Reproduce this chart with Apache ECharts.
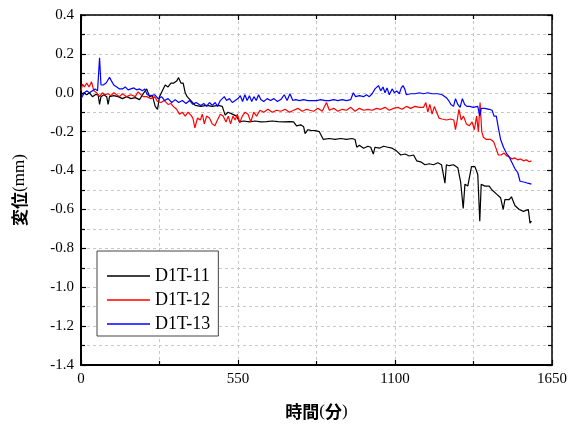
<!DOCTYPE html>
<html><head><meta charset="utf-8">
<script src="https://cdn.jsdelivr.net/npm/echarts@6/dist/echarts.min.js"></script>
<style>html,body{margin:0;padding:0;background:#fff}#c{width:572px;height:436px}</style>
</head><body><div id="c"></div>
<script>
const seriesNames = ['D1T-11', 'D1T-12', 'D1T-13'];
const seriesColors = ['#000000', '#ff0000', '#0000ff'];
const xLabelRich = '{k|時間}{p|(}{k|分}{p|)}';
const yLabelRich = '{k|変位}{p|(mm)}';

const d1t11 = [[0,-0.01],[10,0.0],[20,-0.01],[30,0.0],[40,-0.02],[50,-0.01],[60,-0.01],[65,-0.06],[70,-0.02],[80,-0.01],[90,-0.02],[95,-0.06],[100,-0.02],[115,-0.015],[130,-0.02],[145,-0.03],[160,-0.02],[175,-0.03],[190,-0.025],[205,-0.035],[220,0.0],[230,0.02],[240,-0.02],[250,-0.015],[260,-0.07],[268,-0.085],[275,-0.02],[285,0.01],[295,0.04],[305,0.03],[315,0.05],[325,0.05],[335,0.06],[342,0.078],[350,0.05],[358,0.05],[365,0.0],[372,-0.02],[385,-0.04],[400,-0.065],[420,-0.07],[440,-0.065],[460,-0.07],[480,-0.065],[495,-0.07],[505,-0.115],[515,-0.1],[530,-0.11],[545,-0.12],[555,-0.15],[570,-0.145],[590,-0.15],[610,-0.145],[630,-0.15],[650,-0.148],[670,-0.145],[690,-0.148],[710,-0.15],[730,-0.148],[745,-0.15],[755,-0.17],[770,-0.165],[780,-0.175],[785,-0.21],[795,-0.19],[805,-0.193],[820,-0.195],[835,-0.2],[849,-0.24],[870,-0.235],[890,-0.24],[910,-0.235],[930,-0.24],[950,-0.235],[960,-0.24],[966,-0.28],[975,-0.27],[990,-0.285],[1005,-0.275],[1015,-0.28],[1024,-0.315],[1030,-0.28],[1045,-0.285],[1060,-0.275],[1075,-0.28],[1090,-0.285],[1106,-0.3],[1120,-0.32],[1135,-0.315],[1150,-0.325],[1165,-0.32],[1176,-0.35],[1190,-0.355],[1205,-0.37],[1220,-0.365],[1235,-0.37],[1250,-0.36],[1263,-0.37],[1270,-0.38],[1275,-0.465],[1280,-0.37],[1290,-0.375],[1305,-0.37],[1320,-0.385],[1330,-0.46],[1339,-0.595],[1345,-0.47],[1355,-0.48],[1368,-0.38],[1380,-0.38],[1390,-0.42],[1397,-0.66],[1402,-0.47],[1415,-0.48],[1430,-0.48],[1440,-0.5],[1455,-0.52],[1470,-0.54],[1479,-0.6],[1485,-0.55],[1500,-0.55],[1508,-0.535],[1520,-0.58],[1535,-0.6],[1550,-0.61],[1567,-0.6],[1573,-0.67],[1578,-0.66]];

const d1t12 = [[0,0.01],[5,0.045],[12,0.03],[20,0.05],[28,0.03],[37,0.056],[45,0.01],[55,0.0],[65,-0.02],[75,0.0],[85,-0.01],[95,-0.005],[105,-0.015],[115,0.0],[125,-0.01],[135,-0.02],[145,-0.005],[160,-0.02],[175,-0.01],[190,-0.02],[200,0.005],[210,-0.01],[218,-0.02],[230,-0.02],[245,-0.03],[258,-0.02],[268,-0.045],[280,-0.05],[292,-0.04],[305,-0.06],[315,-0.055],[323,-0.07],[335,-0.085],[345,-0.11],[355,-0.1],[365,-0.12],[375,-0.1],[385,-0.115],[392,-0.13],[399,-0.18],[408,-0.13],[418,-0.14],[425,-0.11],[432,-0.16],[440,-0.12],[450,-0.13],[460,-0.16],[469,-0.17],[478,-0.14],[488,-0.11],[498,-0.12],[508,-0.15],[516,-0.12],[524,-0.16],[532,-0.12],[540,-0.14],[548,-0.11],[556,-0.155],[565,-0.12],[575,-0.1],[585,-0.11],[595,-0.15],[605,-0.1],[615,-0.12],[627,-0.09],[640,-0.1],[655,-0.085],[670,-0.1],[685,-0.09],[700,-0.095],[715,-0.085],[730,-0.1],[745,-0.09],[760,-0.08],[775,-0.095],[790,-0.085],[802,-0.09],[815,-0.095],[830,-0.08],[845,-0.095],[860,-0.05],[870,-0.09],[885,-0.08],[900,-0.095],[915,-0.085],[930,-0.09],[945,-0.075],[960,-0.095],[975,-0.08],[990,-0.09],[1005,-0.085],[1020,-0.09],[1035,-0.08],[1050,-0.085],[1065,-0.075],[1080,-0.09],[1095,-0.08],[1110,-0.075],[1125,-0.085],[1140,-0.07],[1155,-0.08],[1170,-0.07],[1185,-0.075],[1200,-0.075],[1208,-0.05],[1215,-0.1],[1222,-0.06],[1230,-0.11],[1238,-0.07],[1246,-0.1],[1254,-0.13],[1265,-0.135],[1280,-0.14],[1295,-0.135],[1306,-0.14],[1312,-0.19],[1318,-0.14],[1324,-0.085],[1332,-0.14],[1340,-0.12],[1350,-0.16],[1360,-0.17],[1370,-0.15],[1378,-0.19],[1386,-0.12],[1392,-0.2],[1398,-0.05],[1404,-0.2],[1410,-0.23],[1420,-0.24],[1435,-0.24],[1445,-0.25],[1455,-0.29],[1462,-0.32],[1472,-0.32],[1482,-0.31],[1492,-0.325],[1500,-0.33],[1510,-0.34],[1520,-0.335],[1530,-0.345],[1540,-0.34],[1550,-0.35],[1560,-0.345],[1570,-0.355],[1578,-0.35]];

const d1t13 = [[0,-0.03],[7,-0.035],[12,0.0],[20,0.01],[30,0.0],[40,0.01],[50,0.02],[58,0.01],[65,0.18],[70,0.04],[78,0.04],[88,0.05],[95,0.06],[100,0.08],[107,0.06],[115,0.04],[125,0.03],[135,0.02],[145,0.02],[155,0.03],[165,0.015],[175,0.02],[185,0.025],[195,0.015],[205,0.02],[215,0.01],[223,0.02],[232,-0.01],[245,-0.015],[258,-0.01],[270,-0.03],[282,-0.02],[293,-0.04],[305,-0.03],[318,-0.05],[330,-0.035],[342,-0.05],[355,-0.04],[368,-0.055],[380,-0.04],[392,-0.06],[403,-0.05],[410,-0.05],[420,-0.065],[430,-0.055],[440,-0.07],[450,-0.05],[460,-0.065],[470,-0.05],[478,-0.07],[488,-0.04],[495,-0.05],[502,-0.02],[510,-0.04],[520,-0.03],[530,-0.05],[540,-0.04],[550,-0.03],[558,-0.015],[566,-0.045],[574,-0.01],[582,-0.04],[590,-0.015],[598,-0.045],[606,-0.02],[614,-0.04],[622,-0.01],[630,-0.035],[640,-0.045],[652,-0.03],[664,-0.04],[676,-0.03],[688,-0.045],[700,-0.035],[712,-0.01],[722,-0.04],[732,-0.005],[742,-0.04],[752,-0.035],[765,-0.04],[780,-0.035],[795,-0.04],[810,-0.04],[825,-0.04],[840,-0.035],[855,-0.04],[870,-0.04],[885,-0.035],[900,-0.04],[915,-0.035],[930,-0.04],[945,-0.035],[954,0.0],[962,-0.02],[975,-0.015],[990,-0.02],[1000,-0.01],[1010,-0.02],[1020,-0.005],[1030,0.02],[1036,0.03],[1042,0.037],[1050,0.01],[1058,0.03],[1065,0.0],[1072,0.025],[1080,-0.01],[1090,0.02],[1098,0.0],[1106,0.01],[1115,-0.005],[1122,0.025],[1128,0.037],[1134,0.02],[1140,-0.01],[1155,-0.005],[1170,-0.005],[1185,0.0],[1200,-0.005],[1215,0.0],[1230,-0.005],[1250,-0.005],[1265,-0.01],[1280,-0.025],[1288,-0.04],[1296,-0.06],[1305,-0.07],[1312,-0.03],[1320,-0.06],[1328,-0.075],[1336,-0.03],[1344,-0.06],[1352,-0.07],[1362,-0.07],[1374,-0.075],[1380,-0.08],[1390,-0.07],[1397,-0.12],[1402,-0.08],[1415,-0.08],[1430,-0.085],[1440,-0.09],[1447,-0.12],[1455,-0.12],[1462,-0.18],[1470,-0.24],[1480,-0.28],[1490,-0.31],[1500,-0.33],[1510,-0.36],[1520,-0.39],[1530,-0.41],[1538,-0.455],[1545,-0.465],[1555,-0.46],[1565,-0.465],[1572,-0.46],[1578,-0.47]];

const seriesData = [d1t11, d1t12, d1t13];

const serif = '"Liberation Serif", "Times New Roman", serif';
const cjk = '"Noto Sans CJK JP", sans-serif';
const split = { show: true, lineStyle: { color: '#c8c8c8', type: [3, 3], width: 1 } };
const nameRich = {
  k: { fontFamily: cjk, fontSize: 17, fontWeight: 'bold', color: '#000' },
  p: { fontFamily: serif, fontSize: 17, color: '#000' }
};

const chart = echarts.init(document.getElementById('c'), null, { renderer: 'canvas' });
chart.setOption({
  animation: false,
  backgroundColor: '#fff',
  grid: { left: 81, top: 15, right: 20, bottom: 71, containLabel: false },
  legend: {
    left: 97, top: 251, orient: 'vertical',
    padding: [16, 8, 3, 10],
    itemWidth: 43, itemHeight: 14, itemGap: 6,
    borderColor: '#444', borderWidth: 1, backgroundColor: '#fff',
    textStyle: { fontFamily: serif, fontSize: 18, color: '#000', lineHeight: 18 },
    data: seriesNames.map(n => ({ name: n, icon: 'path://M0,0 L43,0 L43,1.4 L0,1.4 Z' }))
  },
  xAxis: [{
    type: 'value', min: 0, max: 1650, interval: 550, position: 'bottom',
    name: xLabelRich, nameLocation: 'middle', nameGap: 38,
    nameTextStyle: { rich: nameRich },
    axisLine: { show: true, onZero: false, lineStyle: { color: '#000', width: 2 } },
    axisTick: { show: true, inside: true, length: 5, lineStyle: { color: '#000', width: 1.2 } },
    minorTick: { show: true, splitNumber: 2, length: 4, lineStyle: { color: '#000', width: 1.2 } },
    axisLabel: { fontFamily: serif, fontSize: 15, color: '#000', margin: 7, formatter: v => String(v) },
    splitLine: split, minorSplitLine: split
  }, {
    type: 'value', min: 0, max: 1650, interval: 550, position: 'top',
    axisLine: { show: true, onZero: false, lineStyle: { color: '#000', width: 1.5 } },
    axisTick: { show: true, inside: true, length: 5, lineStyle: { color: '#000', width: 1.2 } },
    minorTick: { show: true, splitNumber: 2, length: 4, lineStyle: { color: '#000', width: 1.2 } },
    axisLabel: { show: false }, splitLine: { show: false }
  }],
  yAxis: [{
    type: 'value', min: -1.4, max: 0.4, interval: 0.2, position: 'left',
    name: yLabelRich, nameLocation: 'middle', nameGap: 53, nameRotate: 90,
    nameTextStyle: { rich: nameRich },
    axisLine: { show: true, onZero: false, lineStyle: { color: '#000', width: 2 } },
    axisTick: { show: true, inside: true, length: 5, lineStyle: { color: '#000', width: 1.2 } },
    minorTick: { show: true, splitNumber: 2, length: 4, lineStyle: { color: '#000', width: 1.2 } },
    axisLabel: { fontFamily: serif, fontSize: 15, color: '#000', margin: 7, formatter: v => v.toFixed(1) },
    splitLine: split, minorSplitLine: split
  }, {
    type: 'value', min: -1.4, max: 0.4, interval: 0.2, position: 'right',
    axisLine: { show: true, onZero: false, lineStyle: { color: '#000', width: 1.5 } },
    axisTick: { show: true, inside: true, length: 5, lineStyle: { color: '#000', width: 1.2 } },
    minorTick: { show: true, splitNumber: 2, length: 4, lineStyle: { color: '#000', width: 1.2 } },
    axisLabel: { show: false }, splitLine: { show: false }
  }],
  series: seriesNames.map((n, i) => ({
    name: n, type: 'line', data: seriesData[i], xAxisIndex: 0, yAxisIndex: 0,
    symbol: 'none', showSymbol: false,
    lineStyle: { color: seriesColors[i], width: 1.2 },
    itemStyle: { color: seriesColors[i] }
  }))
});
</script></body></html>
